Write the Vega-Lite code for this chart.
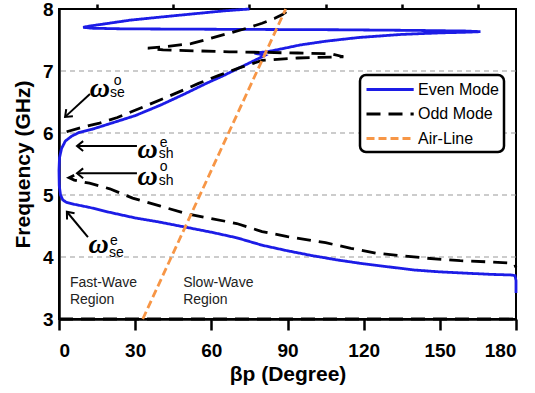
{
  "$schema": "https://vega.github.io/schema/vega-lite/v6.json",
  "width": 457,
  "height": 310,
  "autosize": {"type": "none"},
  "padding": {"left": 59, "top": 9, "right": 19, "bottom": 74},
  "background": "white",
  "config": {
    "view": {"stroke": "black", "strokeWidth": 2},
    "font": "Liberation Sans"
  },
  "resolve": {"axis": {"x": "independent"}},
  "datasets": {
    "grid": [{"f": 4}, {"f": 5}, {"f": 6}, {"f": 7}],
    "curves": [
      {"series": "Even Mode", "seg": "E", "i": 1, "bp": 180, "f": 3.42},
      {"series": "Even Mode", "seg": "E", "i": 2, "bp": 180, "f": 3.62},
      {"series": "Even Mode", "seg": "E", "i": 3, "bp": 179.6, "f": 3.7},
      {"series": "Even Mode", "seg": "E", "i": 4, "bp": 178, "f": 3.71},
      {"series": "Even Mode", "seg": "E", "i": 5, "bp": 170, "f": 3.72},
      {"series": "Even Mode", "seg": "E", "i": 6, "bp": 160, "f": 3.74},
      {"series": "Even Mode", "seg": "E", "i": 7, "bp": 150, "f": 3.76},
      {"series": "Even Mode", "seg": "E", "i": 8, "bp": 140, "f": 3.79},
      {"series": "Even Mode", "seg": "E", "i": 9, "bp": 130, "f": 3.84},
      {"series": "Even Mode", "seg": "E", "i": 10, "bp": 120, "f": 3.89},
      {"series": "Even Mode", "seg": "E", "i": 11, "bp": 110, "f": 3.95},
      {"series": "Even Mode", "seg": "E", "i": 12, "bp": 100, "f": 4.02},
      {"series": "Even Mode", "seg": "E", "i": 13, "bp": 90, "f": 4.1},
      {"series": "Even Mode", "seg": "E", "i": 14, "bp": 80, "f": 4.19},
      {"series": "Even Mode", "seg": "E", "i": 15, "bp": 70, "f": 4.31},
      {"series": "Even Mode", "seg": "E", "i": 16, "bp": 60, "f": 4.4},
      {"series": "Even Mode", "seg": "E", "i": 17, "bp": 50, "f": 4.48},
      {"series": "Even Mode", "seg": "E", "i": 18, "bp": 40, "f": 4.56},
      {"series": "Even Mode", "seg": "E", "i": 19, "bp": 30, "f": 4.63},
      {"series": "Even Mode", "seg": "E", "i": 20, "bp": 20, "f": 4.72},
      {"series": "Even Mode", "seg": "E", "i": 21, "bp": 12, "f": 4.8},
      {"series": "Even Mode", "seg": "E", "i": 22, "bp": 6, "f": 4.85},
      {"series": "Even Mode", "seg": "E", "i": 23, "bp": 3, "f": 4.88},
      {"series": "Even Mode", "seg": "E", "i": 24, "bp": 1.5, "f": 4.92},
      {"series": "Even Mode", "seg": "E", "i": 25, "bp": 0.6, "f": 5.0},
      {"series": "Even Mode", "seg": "E", "i": 26, "bp": 0.1, "f": 5.15},
      {"series": "Even Mode", "seg": "E", "i": 27, "bp": 0, "f": 5.4},
      {"series": "Even Mode", "seg": "E", "i": 28, "bp": 0.2, "f": 5.6},
      {"series": "Even Mode", "seg": "E", "i": 29, "bp": 1, "f": 5.75},
      {"series": "Even Mode", "seg": "E", "i": 30, "bp": 2.5, "f": 5.87},
      {"series": "Even Mode", "seg": "E", "i": 31, "bp": 5, "f": 5.95},
      {"series": "Even Mode", "seg": "E", "i": 32, "bp": 8, "f": 6.01},
      {"series": "Even Mode", "seg": "E", "i": 33, "bp": 13, "f": 6.06},
      {"series": "Even Mode", "seg": "E", "i": 34, "bp": 20, "f": 6.15},
      {"series": "Even Mode", "seg": "E", "i": 35, "bp": 30, "f": 6.28},
      {"series": "Even Mode", "seg": "E", "i": 36, "bp": 40, "f": 6.45},
      {"series": "Even Mode", "seg": "E", "i": 37, "bp": 50, "f": 6.64},
      {"series": "Even Mode", "seg": "E", "i": 38, "bp": 58, "f": 6.8},
      {"series": "Even Mode", "seg": "E", "i": 39, "bp": 65, "f": 6.93},
      {"series": "Even Mode", "seg": "E", "i": 40, "bp": 72, "f": 7.07},
      {"series": "Even Mode", "seg": "E", "i": 41, "bp": 78, "f": 7.19},
      {"series": "Even Mode", "seg": "E", "i": 42, "bp": 81, "f": 7.25},
      {"series": "Even Mode", "seg": "E", "i": 43, "bp": 77, "f": 7.29},
      {"series": "Even Mode", "seg": "E", "i": 44, "bp": 82, "f": 7.31},
      {"series": "Even Mode", "seg": "E", "i": 45, "bp": 88, "f": 7.36},
      {"series": "Even Mode", "seg": "E", "i": 46, "bp": 95, "f": 7.42},
      {"series": "Even Mode", "seg": "E", "i": 47, "bp": 105, "f": 7.48},
      {"series": "Even Mode", "seg": "E", "i": 48, "bp": 118, "f": 7.54},
      {"series": "Even Mode", "seg": "E", "i": 49, "bp": 135, "f": 7.59},
      {"series": "Even Mode", "seg": "E", "i": 50, "bp": 150, "f": 7.615},
      {"series": "Even Mode", "seg": "E", "i": 51, "bp": 160, "f": 7.625},
      {"series": "Even Mode", "seg": "E", "i": 52, "bp": 166, "f": 7.635},
      {"series": "Even Mode", "seg": "E", "i": 53, "bp": 160, "f": 7.645},
      {"series": "Even Mode", "seg": "E", "i": 54, "bp": 140, "f": 7.655},
      {"series": "Even Mode", "seg": "E", "i": 55, "bp": 110, "f": 7.665},
      {"series": "Even Mode", "seg": "E", "i": 56, "bp": 80, "f": 7.67},
      {"series": "Even Mode", "seg": "E", "i": 57, "bp": 50, "f": 7.675},
      {"series": "Even Mode", "seg": "E", "i": 58, "bp": 25, "f": 7.68},
      {"series": "Even Mode", "seg": "E", "i": 59, "bp": 13, "f": 7.69},
      {"series": "Even Mode", "seg": "E", "i": 60, "bp": 9.5, "f": 7.705},
      {"series": "Even Mode", "seg": "E", "i": 61, "bp": 12, "f": 7.725},
      {"series": "Even Mode", "seg": "E", "i": 62, "bp": 18, "f": 7.76},
      {"series": "Even Mode", "seg": "E", "i": 63, "bp": 28, "f": 7.82},
      {"series": "Even Mode", "seg": "E", "i": 64, "bp": 40, "f": 7.87},
      {"series": "Even Mode", "seg": "E", "i": 65, "bp": 55, "f": 7.93},
      {"series": "Even Mode", "seg": "E", "i": 66, "bp": 65, "f": 7.97},
      {"series": "Even Mode", "seg": "E", "i": 67, "bp": 75, "f": 8.0},
      {"series": "Odd Mode", "seg": "OA", "i": 1, "bp": 6, "f": 5.32},
      {"series": "Odd Mode", "seg": "OA", "i": 2, "bp": 4, "f": 5.28},
      {"series": "Odd Mode", "seg": "OA", "i": 3, "bp": 6, "f": 5.24},
      {"series": "Odd Mode", "seg": "OA", "i": 4, "bp": 12, "f": 5.19},
      {"series": "Odd Mode", "seg": "OA", "i": 5, "bp": 20, "f": 5.1},
      {"series": "Odd Mode", "seg": "OA", "i": 6, "bp": 29, "f": 4.95},
      {"series": "Odd Mode", "seg": "OA", "i": 7, "bp": 40, "f": 4.82},
      {"series": "Odd Mode", "seg": "OA", "i": 8, "bp": 50, "f": 4.7},
      {"series": "Odd Mode", "seg": "OA", "i": 9, "bp": 60, "f": 4.62},
      {"series": "Odd Mode", "seg": "OA", "i": 10, "bp": 70, "f": 4.54},
      {"series": "Odd Mode", "seg": "OA", "i": 11, "bp": 80, "f": 4.41},
      {"series": "Odd Mode", "seg": "OA", "i": 12, "bp": 90, "f": 4.33},
      {"series": "Odd Mode", "seg": "OA", "i": 13, "bp": 105, "f": 4.23},
      {"series": "Odd Mode", "seg": "OA", "i": 14, "bp": 115, "f": 4.14},
      {"series": "Odd Mode", "seg": "OA", "i": 15, "bp": 125, "f": 4.06},
      {"series": "Odd Mode", "seg": "OA", "i": 16, "bp": 135, "f": 4.02},
      {"series": "Odd Mode", "seg": "OA", "i": 17, "bp": 145, "f": 3.98},
      {"series": "Odd Mode", "seg": "OA", "i": 18, "bp": 158, "f": 3.94},
      {"series": "Odd Mode", "seg": "OA", "i": 19, "bp": 170, "f": 3.92},
      {"series": "Odd Mode", "seg": "OA", "i": 20, "bp": 178, "f": 3.9},
      {"series": "Odd Mode", "seg": "OA", "i": 21, "bp": 179.5, "f": 3.88},
      {"series": "Odd Mode", "seg": "OA", "i": 22, "bp": 180, "f": 3.83},
      {"series": "Odd Mode", "seg": "OB", "i": 1, "bp": 3, "f": 6.02},
      {"series": "Odd Mode", "seg": "OB", "i": 2, "bp": 8, "f": 6.08},
      {"series": "Odd Mode", "seg": "OB", "i": 3, "bp": 16, "f": 6.16},
      {"series": "Odd Mode", "seg": "OB", "i": 4, "bp": 23, "f": 6.25},
      {"series": "Odd Mode", "seg": "OB", "i": 5, "bp": 29, "f": 6.35},
      {"series": "Odd Mode", "seg": "OB", "i": 6, "bp": 42, "f": 6.57},
      {"series": "Odd Mode", "seg": "OB", "i": 7, "bp": 55, "f": 6.8},
      {"series": "Odd Mode", "seg": "OB", "i": 8, "bp": 63, "f": 6.93},
      {"series": "Odd Mode", "seg": "OB", "i": 9, "bp": 71, "f": 7.05},
      {"series": "Odd Mode", "seg": "OB", "i": 10, "bp": 80, "f": 7.17},
      {"series": "Odd Mode", "seg": "OB", "i": 11, "bp": 94, "f": 7.21},
      {"series": "Odd Mode", "seg": "OB", "i": 12, "bp": 112, "f": 7.23},
      {"series": "Odd Mode", "seg": "OB", "i": 13, "bp": 107, "f": 7.28},
      {"series": "Odd Mode", "seg": "OB", "i": 14, "bp": 94, "f": 7.29},
      {"series": "Odd Mode", "seg": "OB", "i": 15, "bp": 67, "f": 7.31},
      {"series": "Odd Mode", "seg": "OB", "i": 16, "bp": 41, "f": 7.34},
      {"series": "Odd Mode", "seg": "OB", "i": 17, "bp": 35, "f": 7.37},
      {"series": "Odd Mode", "seg": "OB", "i": 18, "bp": 41, "f": 7.39},
      {"series": "Odd Mode", "seg": "OB", "i": 19, "bp": 52, "f": 7.44},
      {"series": "Odd Mode", "seg": "OB", "i": 20, "bp": 60, "f": 7.53},
      {"series": "Odd Mode", "seg": "OB", "i": 21, "bp": 67, "f": 7.61},
      {"series": "Odd Mode", "seg": "OB", "i": 22, "bp": 74, "f": 7.69},
      {"series": "Odd Mode", "seg": "OB", "i": 23, "bp": 80, "f": 7.77},
      {"series": "Odd Mode", "seg": "OB", "i": 24, "bp": 85, "f": 7.85},
      {"series": "Odd Mode", "seg": "OB", "i": 25, "bp": 88, "f": 7.91},
      {"series": "Odd Mode", "seg": "OB", "i": 26, "bp": 91, "f": 8.0},
      {"series": "Odd Mode", "seg": "OC", "i": 1, "bp": 0, "f": 3.0},
      {"series": "Odd Mode", "seg": "OC", "i": 2, "bp": 180, "f": 3.0},
      {"series": "Air-Line", "seg": "A", "i": 1, "bp": 33, "f": 3.0},
      {"series": "Air-Line", "seg": "A", "i": 2, "bp": 89.3, "f": 8.0}
    ],
    "arrows": [
      {"bp": 12.2, "f": 6.63, "bp2": 2.4, "f2": 6.26},
      {"bp": 30.7, "f": 5.79, "bp2": 7.1, "f2": 5.79},
      {"bp": 30.7, "f": 5.35, "bp2": 7.1, "f2": 5.35},
      {"bp": 11.4, "f": 4.32, "bp2": 3.1, "f2": 4.73}
    ],
    "headsLeft": [{"bp": 7.1, "f": 5.79}, {"bp": 7.1, "f": 5.35}],
    "headsDownLeft": [{"bp": 2.4, "f": 6.26}],
    "headsUpLeft": [{"bp": 3.1, "f": 4.73}],
    "omega": [
      {"bp": 16.1, "f": 6.58},
      {"bp": 34.9, "f": 5.6},
      {"bp": 34.9, "f": 5.16},
      {"bp": 15.6, "f": 4.06}
    ],
    "scripts": [
      {"bp": 21.6, "f": 6.77, "t": "o"},
      {"bp": 20.1, "f": 6.58, "t": "se"},
      {"bp": 39.7, "f": 5.78, "t": "e"},
      {"bp": 39.3, "f": 5.6, "t": "sh"},
      {"bp": 39.7, "f": 5.38, "t": "o"},
      {"bp": 39.3, "f": 5.16, "t": "sh"},
      {"bp": 20.1, "f": 4.2, "t": "e"},
      {"bp": 19.7, "f": 4.0, "t": "se"}
    ],
    "regions": [
      {"bp": 4.3, "f": 3.52, "t": "Fast-Wave"},
      {"bp": 4.3, "f": 3.24, "t": "Region"},
      {"bp": 48.9, "f": 3.52, "t": "Slow-Wave"},
      {"bp": 48.9, "f": 3.24, "t": "Region"}
    ]
  },
  "layer": [
    {
      "data": {"name": "grid"},
      "mark": {"type": "rule", "color": "#9a9a9a", "strokeDash": [5, 4], "strokeWidth": 1.2},
      "encoding": {
        "y": {"field": "f", "type": "quantitative", "scale": {"domain": [3, 8], "nice": false}}
      }
    },
    {
      "data": {"name": "curves"},
      "mark": {"type": "line", "strokeWidth": 2.8},
      "encoding": {
        "x": {
          "field": "bp", "type": "quantitative",
          "scale": {"domain": [0, 180], "nice": false},
          "axis": {
            "values": [0, 30, 60, 90, 120, 150, 180],
            "title": "βp (Degree)",
            "titleFont": "Liberation Sans", "titleFontSize": 21, "titleFontWeight": "bold", "titleColor": "black", "titlePadding": 3,
            "labelFont": "Liberation Sans", "labelFontSize": 19, "labelFontWeight": "bold", "labelColor": "black", "labelPadding": 11,
            "tickSize": 11, "tickWidth": 2.5, "tickColor": "black",
            "domainColor": "black", "domainWidth": 2.5, "grid": false
          }
        },
        "y": {
          "field": "f", "type": "quantitative",
          "scale": {"domain": [3, 8], "nice": false},
          "axis": {
            "values": [3, 4, 5, 6, 7, 8],
            "format": "d",
            "title": "Frequency (GHz)",
            "titleFont": "Liberation Sans", "titleFontSize": 21, "titleFontWeight": "bold", "titleColor": "black", "titlePadding": 9,
            "labelFont": "Liberation Sans", "labelFontSize": 19, "labelFontWeight": "bold", "labelColor": "black", "labelPadding": 6,
            "ticks": false, "domainColor": "black", "domainWidth": 2.5, "grid": false
          }
        },
        "color": {
          "field": "series", "type": "nominal",
          "scale": {"domain": ["Even Mode", "Odd Mode", "Air-Line"], "range": ["#1c1ce6", "#000000", "#f79646"]},
          "legend": {
            "orient": "none", "legendX": 301, "legendY": 66, "title": null,
            "strokeColor": "black", "cornerRadius": 6, "fillColor": "white", "padding": 5,
            "labelFont": "Liberation Sans", "labelFontSize": 16, "labelColor": "black", "labelOffset": 34,
            "symbolType": "M -1 0 L 4.9 0", "symbolSize": 256, "symbolStrokeWidth": 3, "rowPadding": 6.5,
            "encode": {"legend": {"update": {"strokeWidth": {"value": 2.5}}}}
          }
        },
        "strokeDash": {
          "field": "series", "type": "nominal",
          "scale": {"domain": ["Even Mode", "Odd Mode", "Air-Line"], "range": [[1, 0], [14, 8], [8, 4]]},
          "legend": {
            "orient": "none", "legendX": 301, "legendY": 66, "title": null,
            "strokeColor": "black", "cornerRadius": 6, "fillColor": "white", "padding": 5,
            "labelFont": "Liberation Sans", "labelFontSize": 16, "labelColor": "black", "labelOffset": 34,
            "symbolType": "M -1 0 L 4.9 0", "symbolSize": 256, "symbolStrokeWidth": 3, "rowPadding": 6.5,
            "encode": {"legend": {"update": {"strokeWidth": {"value": 2.5}}}}
          }
        },
        "detail": {"field": "seg", "type": "nominal"},
        "order": {"field": "i", "type": "quantitative"}
      }
    },
    {
      "data": {"name": "arrows"},
      "mark": {"type": "rule", "color": "black", "strokeWidth": 2},
      "encoding": {
        "x": {
          "field": "bp", "type": "quantitative",
          "scale": {"domain": [0, 180], "nice": false},
          "axis": {
            "values": [15, 45, 75, 105, 135, 165],
            "title": null, "labels": false, "domain": false, "grid": false,
            "tickSize": 5, "tickWidth": 2.5, "tickColor": "black"
          }
        },
        "x2": {"field": "bp2"},
        "y": {"field": "f", "type": "quantitative"},
        "y2": {"field": "f2"}
      }
    },
    {
      "data": {"name": "headsLeft"},
      "mark": {"type": "point", "shape": "M 1 -0.8 L 0 0 L 1 0.8", "filled": false, "stroke": "black", "strokeWidth": 2, "size": 150, "opacity": 1},
      "encoding": {
        "x": {"field": "bp", "type": "quantitative", "axis": null},
        "y": {"field": "f", "type": "quantitative"}
      }
    },
    {
      "data": {"name": "headsDownLeft"},
      "mark": {"type": "point", "shape": "M 1 -0.8 L 0 0 L 1 0.8", "angle": 317, "filled": false, "stroke": "black", "strokeWidth": 2, "size": 150, "opacity": 1},
      "encoding": {
        "x": {"field": "bp", "type": "quantitative", "axis": null},
        "y": {"field": "f", "type": "quantitative"}
      }
    },
    {
      "data": {"name": "headsUpLeft"},
      "mark": {"type": "point", "shape": "M 1 -0.8 L 0 0 L 1 0.8", "angle": 50, "filled": false, "stroke": "black", "strokeWidth": 2, "size": 150, "opacity": 1},
      "encoding": {
        "x": {"field": "bp", "type": "quantitative", "axis": null},
        "y": {"field": "f", "type": "quantitative"}
      }
    },
    {
      "data": {"name": "omega"},
      "mark": {"type": "text", "text": "ω", "font": "Liberation Serif", "fontSize": 28, "fontStyle": "italic", "fontWeight": "bold", "align": "center", "baseline": "alphabetic", "color": "black"},
      "encoding": {
        "x": {"field": "bp", "type": "quantitative", "axis": null},
        "y": {"field": "f", "type": "quantitative"}
      }
    },
    {
      "data": {"name": "scripts"},
      "mark": {"type": "text", "font": "Liberation Sans", "fontSize": 14, "align": "left", "baseline": "alphabetic", "color": "black"},
      "encoding": {
        "x": {"field": "bp", "type": "quantitative", "axis": null},
        "y": {"field": "f", "type": "quantitative"},
        "text": {"field": "t"}
      }
    },
    {
      "data": {"name": "regions"},
      "mark": {"type": "text", "font": "Liberation Sans", "fontSize": 14, "align": "left", "baseline": "alphabetic", "color": "#222222"},
      "encoding": {
        "x": {"field": "bp", "type": "quantitative", "axis": null},
        "y": {"field": "f", "type": "quantitative"},
        "text": {"field": "t"}
      }
    }
  ]
}
